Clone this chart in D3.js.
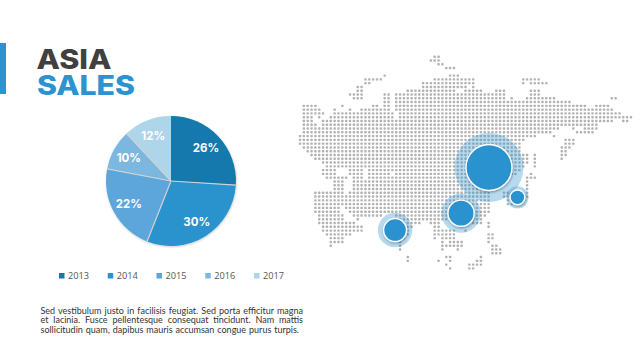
<!DOCTYPE html>
<html lang="en">
<head>
    <meta charset="UTF-8">
    <title>Asia Sales</title>
    <script src="https://d3js.org/d3.v7.min.js"></script>
    <style>
        html, body { margin: 0; padding: 0; background: #fff; }
        svg { display: block; }
    </style>
</head>
<body>
    <svg id="chart" width="640" height="360"></svg>
    <script>
        // Pie data
        const years = ["2013", "2014", "2015", "2016", "2017"];
        const shares = [26, 30, 22, 10, 12];
        const yearColors = ["#1279ad", "#2a92cc", "#5ba6dc", "#7cb7e0", "#aed5e9"];

        // Markers on the map, in grid columns and rows
        const markerCols = [49.1, 41.85, 56.5, 24.7];
        const markerRows = [29.3, 41.4, 37.2, 45.85];
        const markerValues = [100, 57, 32, 50];

        const bodyText = [
            "Sed vestibulum justo in facilisis feugiat. Sed porta efficitur magna",
            "et lacinia. Fusce pellentesque consequat tincidunt. Nam mattis",
            "sollicitudin quam, dapibus mauris accumsan congue purus turpis."
        ];

        // Dot map, one string per grid row, spans of filled columns
        const mapRows = [
            "35-36", "34-36", "36-37", "38-40", "",
            "22,39-41",
            "17-21,35-45,58-62",
            "17-18,32-45,58,60-62,63-64",
            "15-16,32-43,45",
            "15-16,28-40,43-47,51-53,60-62",
            "13-16,22-23,25-53,60-62",
            "14-16,22-23,25-53,55,59-66,81-82",
            "22-23,25-70",
            "1-4,11,19-20,22-23,25-74,77-80",
            "1-5,9,13,16-23,25-81",
            "1-6,9-24,26-83",
            "1-3,5,8-24,26-86",
            "1-3,6-7,8-81,84-85",
            "1-4,6-77",
            "1-67,71,74-77",
            "1-65,72-76",
            "0-61,66",
            "0-58,69-71",
            "0-57,69-71",
            "1-57,68-70",
            "2-57,68-69",
            "3-59,61,68-69",
            "4-59,61,68",
            "6-59,61",
            "7-58,61",
            "6-9,13-16,18-57",
            "6-9,13-16,18-23,25-56,60",
            "7-12,14-16,18-54,59-61",
            "9-11,14-52,59",
            "9-11,14-51,59",
            "9-11,14-50,59",
            "4-11,13-49,53-54,59",
            "4-49,53-54,59",
            "4-49,54-55",
            "4-49,54-55",
            "4-10,12-49",
            "4-10,13-49",
            "5-11,14-21,25-48",
            "5-11,15,24-47",
            "5-14,24-31,34-36,44-47,49",
            "6-16,24-29,35-36,49",
            "6-16,25-28,35-40,43",
            "7-13,25-28,35-40,49-50",
            "8-11,25-27,35,37-40,49-50",
            "8-11,26,37,39-42,49",
            "8,26,37-38,39-42,50-51",
            "26,37,41,50-52",
            "50-52",
            "28,38-39,47",
            "28,36,39,46-47",
            "38,44-47",
            "39,44-45"
        ];

        const svg = d3.select("#chart");
        const defs = svg.append("defs");

        const shadow = defs.append("filter").attr("id", "shadow")
            .attr("x", "-30%").attr("y", "-30%").attr("width", "160%").attr("height", "160%");
        shadow.append("feDropShadow").attr("dx", 0.6).attr("dy", 1.2)
            .attr("stdDeviation", 0.8).attr("flood-color", "#000").attr("flood-opacity", 0.35);

        const pieShadow = defs.append("filter").attr("id", "pieShadow")
            .attr("x", "-10%").attr("y", "-10%").attr("width", "120%").attr("height", "120%");
        pieShadow.append("feDropShadow").attr("dx", 0.5).attr("dy", 1)
            .attr("stdDeviation", 1).attr("flood-color", "#000").attr("flood-opacity", 0.2);

        // Title block
        svg.append("rect").attr("x", 0).attr("y", 43).attr("width", 6).attr("height", 51).attr("fill", "#2b93cf");

        const titleFont = "Inter, sans-serif";
        svg.append("text").text("ASIA")
            .attr("x", 36.5).attr("y", 68.5)
            .attr("font-family", titleFont).attr("font-weight", 800).attr("font-size", 27)
            .attr("textLength", 75).attr("lengthAdjust", "spacingAndGlyphs")
            .attr("fill", "#404040");
        svg.append("text").text("SALES")
            .attr("x", 37).attr("y", 95)
            .attr("font-family", titleFont).attr("font-weight", 800).attr("font-size", 27)
            .attr("textLength", 98).attr("lengthAdjust", "spacingAndGlyphs")
            .attr("fill", "#2b93cf");

        // Pie
        const pieRadius = 65;
        const pieGroup = svg.append("g").attr("transform", "translate(171,181)");
        const pie = d3.pie().sort(null);
        const arc = d3.arc().innerRadius(0).outerRadius(pieRadius);
        const labelArc = d3.arc().innerRadius(pieRadius * 0.74).outerRadius(pieRadius * 0.74);
        const arcs = pie(shares);

        pieGroup.append("g").attr("filter", "url(#pieShadow)")
            .selectAll("path")
            .data(arcs)
            .enter()
            .append("path")
            .attr("d", arc)
            .attr("fill", (d, i) => yearColors[i]);

        // Thin grey separators between the slices
        pieGroup.append("g").selectAll("line")
            .data(arcs.slice(1))
            .enter()
            .append("line")
            .attr("x2", d => d3.pointRadial(d.startAngle, pieRadius)[0])
            .attr("y2", d => d3.pointRadial(d.startAngle, pieRadius)[1])
            .attr("stroke", "#d2d2d2")
            .attr("stroke-width", 1.2);

        pieGroup.append("g").selectAll("text")
            .data(arcs)
            .enter()
            .append("text")
            .attr("transform", d => `translate(${labelArc.centroid(d)})`)
            .attr("text-anchor", "middle")
            .attr("dy", "0.36em")
            .attr("font-family", titleFont)
            .attr("font-weight", 700)
            .attr("font-size", 11.5)
            .attr("fill", "#fff")
            .text(d => d.value + "%");

        // Legend
        const legendX = d3.scalePoint().domain(years).range([59, 254]);
        const legend = svg.append("g").selectAll("g")
            .data(years)
            .enter()
            .append("g")
            .attr("transform", d => `translate(${legendX(d)},273)`);
        legend.append("rect")
            .attr("width", 5.5).attr("height", 5.5)
            .attr("fill", (d, i) => yearColors[i]);
        legend.append("text")
            .attr("x", 9).attr("y", 6)
            .attr("font-family", "'Open Sans', sans-serif")
            .attr("font-size", 9.2)
            .attr("fill", "#555")
            .text(d => d);

        // Body text, first two lines justified
        const bodyY = d3.scalePoint().domain(d3.range(bodyText.length)).range([313.5, 333]);
        const bodyLines = svg.append("g").selectAll("text")
            .data(bodyText)
            .enter()
            .append("text")
            .attr("x", 40.5)
            .attr("y", (d, i) => bodyY(i))
            .attr("font-family", "Lato, sans-serif")
            .attr("font-size", 9)
            .attr("fill", "#333")
            .text(d => d);
        bodyLines.each(function(d, i) {
            const target = i < 2 ? 262.5 : 258.5;
            const gaps = d.split(" ").length - 1;
            const extra = (target - this.getComputedTextLength()) / gaps;
            d3.select(this).attr("word-spacing", extra);
        });

        // Dot map
        const gridX = d3.scaleLinear().domain([0, 86]).range([300, 631]);
        const gridY = d3.scaleLinear().domain([0, 56]).range([56.7, 268.4]);

        const cells = [];
        mapRows.forEach((spans, row) => {
            if (!spans) return;
            spans.split(",").forEach(span => {
                const ends = span.split("-").map(Number);
                const last = ends.length > 1 ? ends[1] : ends[0];
                for (let col = ends[0]; col <= last; col++) cells.push({ col, row });
            });
        });

        svg.append("g").selectAll("rect")
            .data(cells)
            .enter()
            .append("rect")
            .attr("x", d => gridX(d.col) - 1.2)
            .attr("y", d => gridY(d.row) - 1.2)
            .attr("width", 2.4)
            .attr("height", 2.4)
            .attr("rx", 0.7)
            .attr("fill", "#b2b2b2");

        // Markers
        const markerRadius = d3.scaleLinear().domain([0, 100]).range([0, 23]);
        const markers = svg.append("g").selectAll("g")
            .data(markerValues)
            .enter()
            .append("g")
            .attr("transform", (d, i) => `translate(${gridX(markerCols[i])},${gridY(markerRows[i])})`);
        markers.append("circle")
            .attr("r", d => markerRadius(d) * 1.5)
            .attr("fill", "#2b93cf")
            .attr("fill-opacity", 0.34);
        markers.append("circle")
            .attr("r", d => markerRadius(d))
            .attr("fill", "#2b93cf")
            .attr("stroke", "#fff")
            .attr("stroke-width", 1.4)
            .attr("filter", "url(#shadow)");
    </script>
</body>
</html>
